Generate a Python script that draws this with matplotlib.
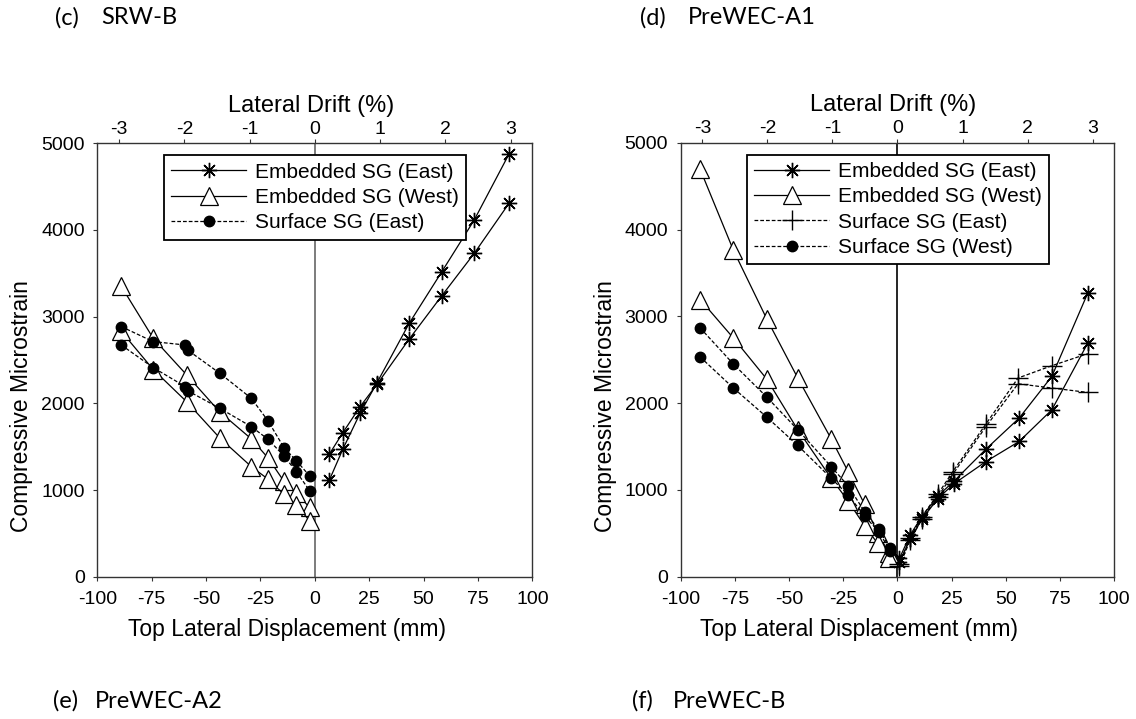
import matplotlib
matplotlib.use('Agg')
from matplotlib import pyplot as plt

plt.rcParams['font.family'] = ['Liberation Sans', 'DejaVu Sans']
plt.rcParams['axes.unicode_minus'] = False

# ---- (c) SRW-B ----
c_east_x = [6.7, 12.9, 20.8, 28.6, 43.4, 58.4, 73.3, 89.3]
c_east1_y = [1116, 1473, 1885, 2239, 2924, 3519, 4116, 4877]
c_east2_y = [1416, 1662, 1962, 2220, 2742, 3242, 3731, 4308]
c_west_x = [-89, -74.3, -59, -43.7, -29.2, -21.5, -14.2, -8.5, -2.4]
c_west1_y = [3350, 2750, 2330, 1900, 1590, 1370, 1100, 960, 800]
c_west2_y = [2830, 2390, 2020, 1600, 1270, 1125, 950, 827, 645]
c_surf_x = [-89, -74.3, -59.5, -58.5, -43.7, -29.2, -21.5, -14.2, -8.5, -2.4]
c_surf1_y = [2885, 2712, 2673, 2615, 2347, 2058, 1797, 1489, 1339, 1162]
c_surf2_y = [2673, 2412, 2192, 2146, 1943, 1731, 1585, 1393, 1212, 992]

# ---- (d) PreWEC-A1 ----
d_east_x = [0.9, 5.8, 11.2, 18.6, 26, 40.8, 56.1, 71.2, 87.8]
d_east1_y = [210, 480, 690, 930, 1100, 1470, 1827, 2308, 3270]
d_east2_y = [170, 430, 660, 900, 1070, 1327, 1558, 1923, 2693]
d_west_x = [-91, -75.7, -60.3, -46, -30.6, -22.8, -15.2, -9.2, -3.8]
d_west1_y = [4693, 3762, 2970, 2289, 1589, 1212, 835, 500, 270]
d_west2_y = [3193, 2750, 2277, 1693, 1135, 873, 588, 385, 210]
d_surfe_x = [0.9, 5.8, 11.2, 18.6, 25.5, 40.8, 55.6, 71.2, 87.8]
d_surfe1_y = [150, 450, 690, 950, 1210, 1760, 2289, 2431, 2570]
d_surfe2_y = [120, 420, 660, 920, 1180, 1730, 2223, 2174, 2123]
d_surfw_x = [-91, -75.7, -60.3, -46, -30.6, -22.8, -15.2, -8.7, -3.4]
d_surfw1_y = [2866, 2450, 2070, 1693, 1269, 1047, 750, 547, 327]
d_surfw2_y = [2531, 2174, 1839, 1512, 1135, 943, 700, 520, 300]

drift_ticks = [-3, -2, -1, 0, 1, 2, 3]
mm_ticks = [-100, -75, -50, -25, 0, 25, 50, 75, 100]
strain_ticks = [0, 1000, 2000, 3000, 4000, 5000]

star = (8, 2, 0)
dash = (0, (3, 1.6))
spine_col = '#333333'

fig = plt.figure(figsize=(11.36, 7.19), dpi=100)
ax_c = fig.add_axes([0.0857, 0.1979, 0.3829, 0.6028])
ax_d = fig.add_axes([0.5992, 0.1979, 0.3817, 0.6036])


def east_kw():
    return dict(color='black', lw=0.9, marker=star, ms=11, mew=1.0)


def west_kw():
    return dict(color='black', lw=0.9, marker='^', ms=13, mfc='white', mec='black', mew=0.9)


ax_c.plot(c_east_x, c_east1_y, label='Embedded SG (East)', **east_kw())
ax_c.plot(c_east_x, c_east2_y, **east_kw())
ax_c.plot(c_west_x, c_west1_y, label='Embedded SG (West)', **west_kw())
ax_c.plot(c_west_x, c_west2_y, **west_kw())
ax_c.plot(c_surf_x, c_surf1_y, color='black', lw=0.9, ls=dash, marker='o', ms=7.5,
          label='Surface SG (East)')
ax_c.plot(c_surf_x, c_surf2_y, color='black', lw=0.9, ls=dash, marker='o', ms=7.5)

ax_d.plot(d_east_x, d_east1_y, label='Embedded SG (East)', **east_kw())
ax_d.plot(d_east_x, d_east2_y, **east_kw())
ax_d.plot(d_west_x, d_west1_y, label='Embedded SG (West)', **west_kw())
ax_d.plot(d_west_x, d_west2_y, **west_kw())
ax_d.plot(d_surfe_x, d_surfe1_y, color='black', lw=0.9, ls=dash, marker='+', ms=14, mew=1.0,
          label='Surface SG (East)')
ax_d.plot(d_surfe_x, d_surfe2_y, color='black', lw=0.9, ls=dash, marker='+', ms=14, mew=1.0)
ax_d.plot(d_surfw_x, d_surfw1_y, color='black', lw=0.9, ls=dash, marker='o', ms=7.5,
          label='Surface SG (West)')
ax_d.plot(d_surfw_x, d_surfw2_y, color='black', lw=0.9, ls=dash, marker='o', ms=7.5)

for ax, zcol, lab_x, xlab_x in [(ax_c, '#666666', -0.148, 0.437), (ax_d, 'black', -0.147, 0.411)]:
    ax.axvline(0, color=zcol, lw=1.2, zorder=1)
    ax.set_xlim(-100, 100)
    ax.set_ylim(0, 5000)
    ax.set_xticks(mm_ticks)
    ax.set_yticks(strain_ticks)
    ax.tick_params(direction='out', length=3, width=0.8, labelsize=14, color=spine_col)
    ax.tick_params(axis='x', pad=7)
    ax.tick_params(axis='y', pad=6)
    for s in ax.spines.values():
        s.set_color(spine_col)
        s.set_linewidth(1.0)
    ax.set_xlabel('Top Lateral Displacement (mm)', fontsize=16.5)
    ax.set_ylabel('Compressive Microstrain', fontsize=16.5)
    ax.xaxis.set_label_coords(xlab_x, -0.095)
    ax.yaxis.set_label_coords(lab_x, 0.394)

    top = ax.twiny()
    top.set_xlim(-100 / 30, 100 / 30)
    top.set_xticks(drift_ticks)
    top.tick_params(direction='out', length=3, width=0.8, labelsize=14, pad=1, color=spine_col)
    for s in top.spines.values():
        s.set_visible(False)
    top.set_xlabel('Lateral Drift (%)', fontsize=17)
    top.xaxis.set_label_coords(0.491, 1.072)

    leg = ax.legend(loc='upper left', bbox_to_anchor=(0.153, 0.972), borderaxespad=0,
                    fontsize=15, numpoints=1, handlelength=3.6, handletextpad=0.4,
                    labelspacing=0.3, borderpad=0.35, fancybox=False, framealpha=1)
    leg.get_frame().set_edgecolor('black')
    leg.get_frame().set_linewidth(1.3)
    leg.set_zorder(5)

lab_font = dict(fontsize=17, family=['Lato', 'DejaVu Sans'], va='center', ha='left')
fig.text(55 / 1136, 1 - 18 / 719, '(c)', **lab_font)
fig.text(101 / 1136, 1 - 18 / 719, 'SRW-B', **lab_font)
fig.text(640 / 1136, 1 - 18 / 719, '(d)', **lab_font)
fig.text(688 / 1136, 1 - 18 / 719, 'PreWEC-A1', **lab_font)
fig.text(53 / 1136, 1 - 701 / 719, '(e)', **lab_font)
fig.text(95 / 1136, 1 - 701 / 719, 'PreWEC-A2', **lab_font)
fig.text(632 / 1136, 1 - 701 / 719, '(f)', **lab_font)
fig.text(673 / 1136, 1 - 701 / 719, 'PreWEC-B', **lab_font)

fig.savefig('out.png', dpi=100)
